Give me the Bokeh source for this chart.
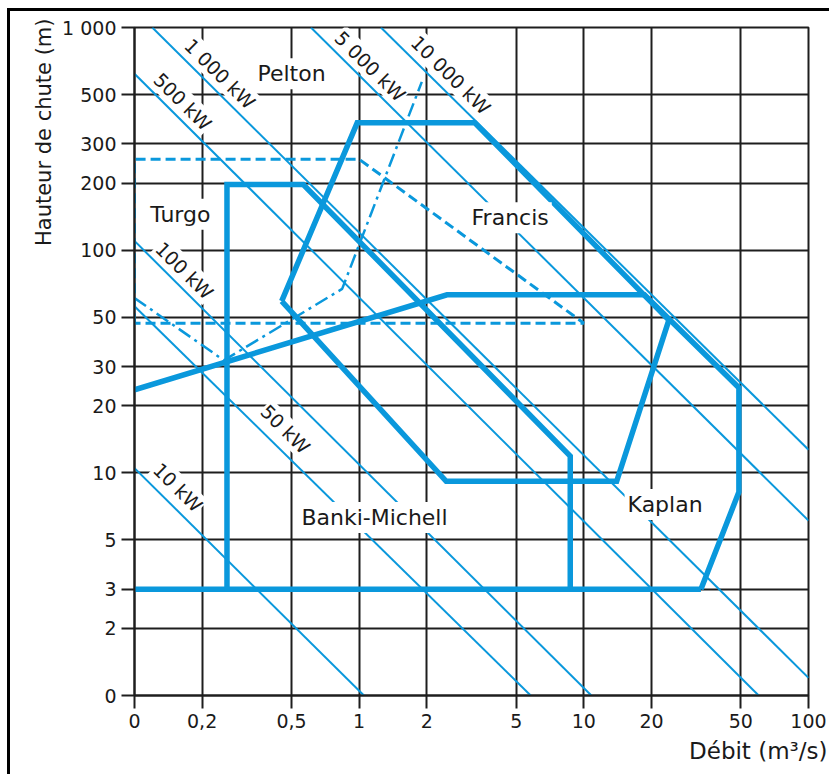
import math
from bokeh.plotting import figure
from bokeh.models import Range1d, FixedTicker, ColumnDataSource, Title
from bokeh.core.properties import value
from bokeh.embed import file_html
from bokeh.resources import INLINE

BLUE = "#0a98dc"
GRID = "#1e1e1e"
FONT = "DejaVu Sans"

# axes
x_ticks = [0.1, 0.2, 0.5, 1, 2, 5, 10, 20, 50, 100]
x_tick_labels = ["0", "0,2", "0,5", "1", "2", "5", "10", "20", "50", "100"]
y_ticks = [1, 2, 3, 5, 10, 20, 30, 50, 100, 200, 300, 500, 1000]
y_tick_labels = ["0", "2", "3", "5", "10", "20", "30", "50", "100", "200", "300", "500", "1 000"]

# constant power lines (endpoints)
power_labels = ["10 kW", "50 kW", "100 kW", "500 kW", "1 000 kW", "5 000 kW", "10 000 kW"]
power_q0 = [0.1, 0.1, 0.1, 0.1, 0.12, 0.61, 1.25]
power_h0 = [10.5, 56, 110, 620, 1000, 1000, 1000]
power_q1 = [1.05, 5.8, 10.8, 60, 100, 100, 100]
power_h1 = [1, 1, 1, 1, 1.2, 6.1, 12.7]
power_label_q = [0.156, 0.47, 0.167, 0.164, 0.24, 1.12, 2.56]
power_label_h = [8.6, 15.7, 81, 465, 620, 670, 612]

# turbine domains
base_q = [0.1, 33.2]
base_h = [3, 3]
banki_q = [0.258, 0.258, 0.564, 8.7, 8.7]
banki_h = [3, 197, 197, 11.9, 3]
kaplan_q = [0.1, 2.46, 18.6, 49, 49, 33.2]
kaplan_h = [23.6, 63, 63, 24.1, 8.2, 3]
francis_q = [0.452, 0.98, 3.27, 23.9, 14.0, 2.44, 0.452]
francis_h = [59, 373, 373, 48.5, 9.16, 9.16, 59]
turgo_q = [0.1, 0.1, 1.0, 10, 0.1]
turgo_h = [47, 256, 256, 47, 47]
pelton_q = [0.1, 0.25, 0.84, 1.9]
pelton_h = [61, 32, 67, 570]

region_names = ["Pelton", "Turgo", "Francis", "Kaplan", "Banki-Michell"]
region_q = [0.5, 0.16, 4.7, 23, 1.17]
region_h = [620, 145, 140, 7.2, 6.3]

p = figure(width=822, height=766, x_axis_type="log", y_axis_type="log",
           x_range=Range1d(0.1, 100), y_range=Range1d(1, 1000),
           output_backend="svg", toolbar_location=None,
           min_border_left=124, min_border_right=24, min_border_top=16, min_border_bottom=82)
p.styles = {"margin-left": "7px", "margin-top": "8px",
            "border-left": "3px solid black", "border-top": "3px solid black"}
p.background_fill_color = "white"
p.border_fill_color = "white"
p.outline_line_color = GRID
p.outline_line_width = 2

for ax, ticks, labels in ((p.xaxis[0], x_ticks, x_tick_labels), (p.yaxis[0], y_ticks, y_tick_labels)):
    ax.ticker = FixedTicker(ticks=ticks)
    ax.major_label_overrides = {t: l for t, l in zip(ticks, labels)}
    ax.major_label_text_font = FONT
    ax.major_label_text_font_size = "19px"
    ax.major_label_text_color = "#1a1a1a"
    ax.axis_line_color = GRID
    ax.axis_line_width = 2
    ax.major_tick_line_color = GRID
    ax.major_tick_line_width = 2
    ax.major_tick_in = 0
    ax.major_tick_out = 13
    ax.minor_tick_line_color = None
    ax.major_label_standoff = 5

p.grid.grid_line_color = GRID
p.grid.grid_line_width = 2

# power lines
p.segment(x0=power_q0, y0=power_h0, x1=power_q1, y1=power_h1, line_color=BLUE, line_width=2)

# domains
p.line(turgo_q, turgo_h, line_color=BLUE, line_width=3, line_dash="10 5")
p.line(pelton_q, pelton_h, line_color=BLUE, line_width=2.5, line_dash="14 5 3 5")
for qs, hs in ((base_q, base_h), (banki_q, banki_h), (kaplan_q, kaplan_h), (francis_q, francis_h)):
    p.line(qs, hs, line_color=BLUE, line_width=5.5, line_join="miter")

# labels
ang = -math.atan(222 / 224.7)
psrc = ColumnDataSource(dict(x=power_label_q, y=power_label_h, t=power_labels))
p.text(x="x", y="y", text="t", source=psrc, angle=ang, text_align="center", text_baseline="middle",
       text_font=value(FONT), text_font_size=value("19px"), text_color="#1a1a1a",
       background_fill_color="white", padding=1)
rsrc = ColumnDataSource(dict(x=region_q, y=region_h, t=region_names))
p.text(x="x", y="y", text="t", source=rsrc, text_align="center", text_baseline="middle",
       text_font=value(FONT), text_font_size=value("22px"), text_color="#1a1a1a",
       background_fill_color="white", padding=3)

p.add_layout(Title(text="Hauteur de chute (m)", align="right", offset=-9, standoff=8,
                   text_font=FONT, text_font_size="21px", text_font_style="normal",
                   text_color="#1a1a1a"), "left")
p.add_layout(Title(text="Débit (m³/s)", align="right", offset=-19, standoff=10,
                   text_font=FONT, text_font_size="23px", text_font_style="normal",
                   text_color="#1a1a1a"), "below")

open("out.html", "w").write(file_html(p, INLINE))
